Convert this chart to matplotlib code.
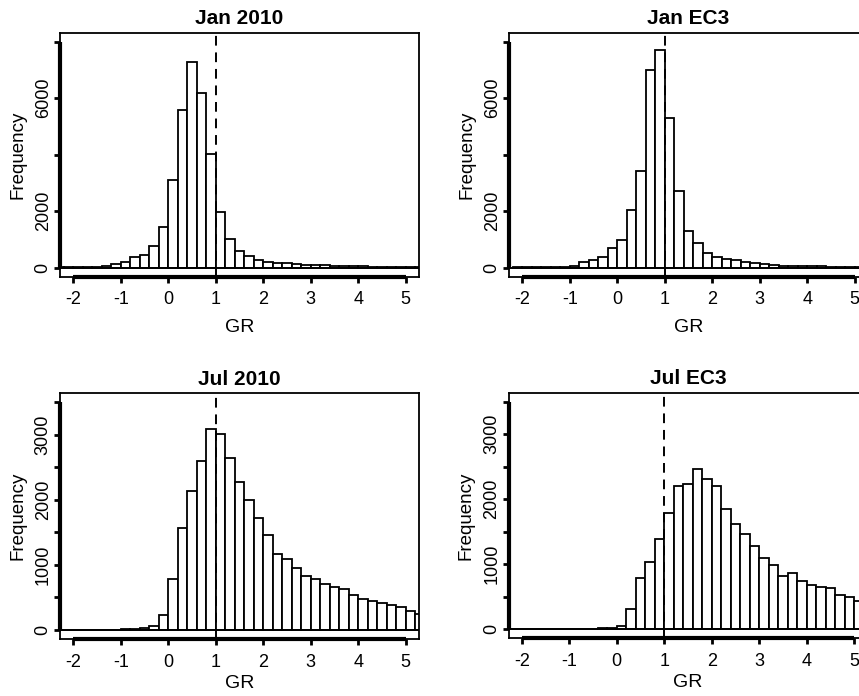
import numpy as np
import matplotlib
matplotlib.use("Agg")
import matplotlib.pyplot as plt
from matplotlib.transforms import blended_transform_factory

plt.rcParams['font.family'] = ['Liberation Sans', 'DejaVu Sans']

# Histogram bins of growth ratio GR (width 0.2), left edges from -2.4 to 5.2
bin_edges = np.round(np.arange(-2.4, 5.41, 0.2), 1)

jan_2010 = [10, 12, 15, 20, 30, 60, 140, 190, 390, 460, 750, 1425,
            3120, 5580, 7300, 6175, 4015, 1960, 1010, 595, 415, 273,
            215, 180, 155, 130, 105, 95, 85, 70, 60, 52, 45, 40, 35,
            30, 26, 22, 20]
jan_ec3 = [5, 8, 10, 15, 20, 30, 40, 60, 200, 285, 380, 690,
           985, 2030, 3440, 6990, 7710, 5290, 2730, 1305, 870, 535,
           380, 320, 275, 215, 165, 120, 85, 70, 60, 55, 50, 45, 40,
           35, 30, 28, 25]
jul_2010 = [0, 0, 0, 0, 0, 2, 5, 10, 20, 35, 60, 228,
            790, 1570, 2135, 2600, 3085, 3020, 2640, 2280, 2005, 1717,
            1460, 1170, 1095, 960, 830, 780, 700, 665, 625, 535, 475,
            440, 410, 380, 350, 295, 250]
jul_ec3 = [0, 0, 0, 0, 0, 0, 0, 0, 0, 5, 15, 25,
           50, 305, 790, 1035, 1385, 1790, 2200, 2230, 2460, 2305,
           2210, 1850, 1620, 1460, 1275, 1100, 990, 815, 860, 745, 680,
           650, 635, 525, 500, 440, 400]

titles = ["Jan 2010", "Jan EC3", "Jul 2010", "Jul EC3"]
series = [jan_2010, jan_ec3, jul_2010, jul_ec3]

x_ticks = [-2, -1, 0, 1, 2, 3, 4, 5]
x_tick_labels = ["-2", "-1", "0", "1", "2", "3", "4", "5"]
jan_y_ticks = [0, 2000, 4000, 6000, 8000]
jan_y_labels = ["0", "2000", "", "6000", ""]
jul_y_ticks = [0, 500, 1000, 1500, 2000, 2500, 3000, 3500]
jul_y_labels = ["0", "", "1000", "", "2000", "", "3000", ""]
reference_gr = 1.0

W, H = 859, 696
fig = plt.figure(figsize=(W / 100, H / 100), dpi=100)

# axes boxes in pixels: left, top, right, bottom
boxes = [(60, 32.7, 419, 276.7),
         (509, 32.7, 868, 276.7),
         (60, 393.3, 419, 639.0),
         (508.5, 392.7, 867.5, 638.3)]

for i, (title, counts) in enumerate(zip(titles, series)):
    l, t, r, b = boxes[i]
    ax = fig.add_axes([l / W, 1 - b / H, (r - l) / W, (b - t) / H])
    is_jan = i < 2
    yt = jan_y_ticks if is_jan else jul_y_ticks
    yl = jan_y_labels if is_jan else jul_y_labels
    ytop = yt[-1]

    ax.bar(bin_edges[:-1], counts, width=0.2, align='edge',
           facecolor='white', edgecolor='black', linewidth=1.3, zorder=2)
    ax.axhline(0, color='black', linewidth=1.3, zorder=3)
    ax.axvline(reference_gr, color='black', linewidth=1.4,
               linestyle=(0, (5, 3.5)), zorder=4)

    ax.set_xlim(-2.28, 5.28)
    ax.set_ylim(-0.04 * ytop, 1.04 * ytop)

    for sp in ax.spines.values():
        sp.set_linewidth(1.3)

    ax.set_xticks(x_ticks)
    ax.set_xticklabels(x_tick_labels)
    ax.set_yticks(yt)
    ax.set_yticklabels(yl, rotation=90, va='center')
    ax.tick_params(axis='both', direction='out', length=4, width=2.0,
                   labelsize=13, color='black')
    ax.tick_params(axis='x', pad=6.5)
    ax.tick_params(axis='y', pad=2)

    # heavy axis lines spanning first to last tick
    tx = blended_transform_factory(ax.transData, ax.transAxes)
    ty = blended_transform_factory(ax.transAxes, ax.transData)
    ax.plot([x_ticks[0], x_ticks[-1]], [0, 0], transform=tx, color='black',
            linewidth=3.0, clip_on=False, solid_capstyle='butt', zorder=5)
    ax.plot([0, 0], [yt[0], yt[-1]], transform=ty, color='black',
            linewidth=3.0, clip_on=False, solid_capstyle='butt', zorder=5)

    ax.set_title(title, fontsize=15, fontweight='bold', pad=6)
    ax.set_xlabel("GR", fontsize=14, labelpad=8 if is_jan else 3)
    ax.set_ylabel("Frequency", fontsize=13.5, labelpad=6)

fig.savefig("out.png", dpi=100)
